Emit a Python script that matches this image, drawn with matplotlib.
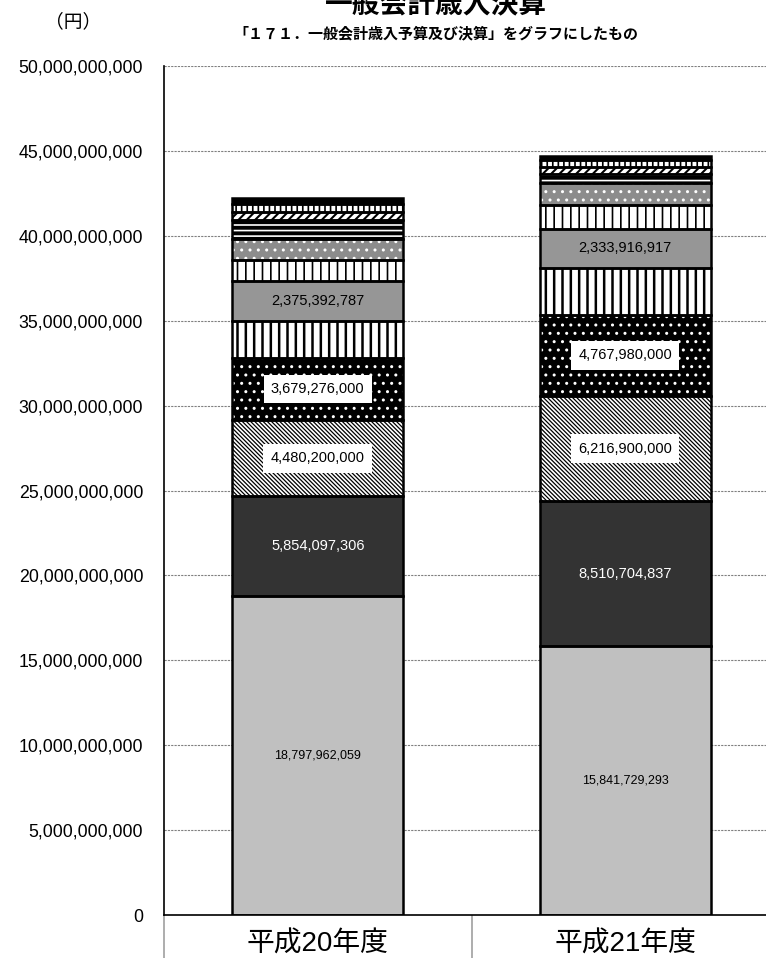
import numpy as np
import matplotlib.pyplot as plt
from matplotlib.ticker import FuncFormatter

# 年度
years = ['平成20年度', '平成21年度']

# 歳入の内訳 (下から上へ) 単位: 円
h20 = [18797962059, 5854097306, 4480200000, 3679276000, 2170000000, 2375392787,
       1210000000, 1240000000, 1120000000, 470000000, 470000000, 360000000]
h21 = [15841729293, 8510704837, 6216900000, 4767980000, 2750000000, 2333916917,
       1370000000, 1320000000, 530000000, 410000000, 410000000, 240000000]

# ラベルを付ける区分
labelled = [0, 1, 2, 3, 5]

faces = ['#c0c0c0', '#333333', 'white', 'black', 'white', '#969696',
         'white', '#8c8c8c', 'black', 'white', 'white', 'black']
hatches = [None, None, '\\' * 8, '..', '||', None,
           '||', '..', '---', '////', '|||', None]
hatch_cols = [None, None, 'black', 'white', 'black', None,
              'black', 'white', 'white', 'black', 'black', None]
hatch_lw = [1, 1, 0.9, 1, 1.8, 1, 1.2, 1, 1.2, 1.5, 1.2, 1]

plt.rcParams['font.family'] = ['Liberation Sans', 'Noto Sans CJK JP']

fig = plt.figure(figsize=(7.66, 9.58), dpi=100)
ax = fig.add_axes([164/766, 43/958, 615/766, 849/958])

x = np.arange(len(years))
w = 0.556
data = np.array([h20, h21], dtype=float)

bottoms = np.zeros(len(years))
for i in range(data.shape[1]):
    vals = data[:, i]
    ax.bar(x, vals, w, bottom=bottoms, color=faces[i], linewidth=0, zorder=2)
    if hatches[i]:
        with plt.rc_context({'hatch.linewidth': hatch_lw[i]}):
            ax.bar(x, vals, w, bottom=bottoms, facecolor='none',
                   edgecolor=hatch_cols[i], hatch=hatches[i], linewidth=0, zorder=3)
    ax.bar(x, vals, w, bottom=bottoms, facecolor='none', edgecolor='black',
           linewidth=1.8, zorder=4)
    if i in labelled:
        for j in range(len(years)):
            yc = bottoms[j] + vals[j] / 2
            txt = f'{int(vals[j]):,}'
            if i == 0:
                ax.text(x[j], yc, txt, ha='center', va='center', fontsize=9, zorder=5)
            elif i == 1:
                ax.text(x[j], yc, txt, ha='center', va='center', fontsize=10.5,
                        color='white', zorder=5)
            elif i in (2, 3):
                ax.text(x[j], yc, txt, ha='center', va='center', fontsize=10.5, zorder=5,
                        bbox=dict(boxstyle='square,pad=0.5', fc='white', ec='none'))
            else:
                ax.text(x[j], yc, txt, ha='center', va='center', fontsize=10.5, zorder=5)
    bottoms = bottoms + vals

ax.set_xlim(-0.5, 1.5)
ax.set_ylim(0, 50e9)
ax.set_yticks(np.arange(0, 50e9 + 1, 5e9))
ax.yaxis.set_major_formatter(FuncFormatter(lambda v, p: f'{int(v):,}'))
ax.tick_params(axis='y', length=0, pad=15, labelsize=12.8)
ax.yaxis.grid(True, color='#808080', linestyle=(0, (2, 1)), linewidth=0.8, zorder=0)
ax.set_axisbelow(True)

ax.set_xticks(x)
ax.set_xticklabels(years, fontsize=20, family=['Liberation Sans', 'Noto Sans CJK JP'])
ax.tick_params(axis='x', which='major', length=0, pad=12)
ax.set_xticks([-0.5, 0.5, 1.5], minor=True)
ax.tick_params(axis='x', which='minor', length=31, width=1.2, color='#a0a0a0', direction='out')

for s in ['top', 'right']:
    ax.spines[s].set_visible(False)
ax.spines['left'].set_linewidth(1.2)
ax.spines['bottom'].set_linewidth(1.2)

fig.text(73/766, 1 - 22/958, '（円）', ha='center', va='center', fontsize=13.5,
         family=['Noto Sans CJK JP'])
fig.text(436/766, 1 - 5/958, '一般会計歳入決算', ha='center', va='center',
         fontsize=20, fontweight='bold', family=['Noto Sans CJK JP'])
fig.text(436/766, 1 - 33/958, '「１７１．一般会計歳入予算及び決算」をグラフにしたもの',
         ha='center', va='center', fontsize=10.8, fontweight='bold',
         family=['Noto Sans CJK JP'])

fig.savefig('out.png', dpi=100)
